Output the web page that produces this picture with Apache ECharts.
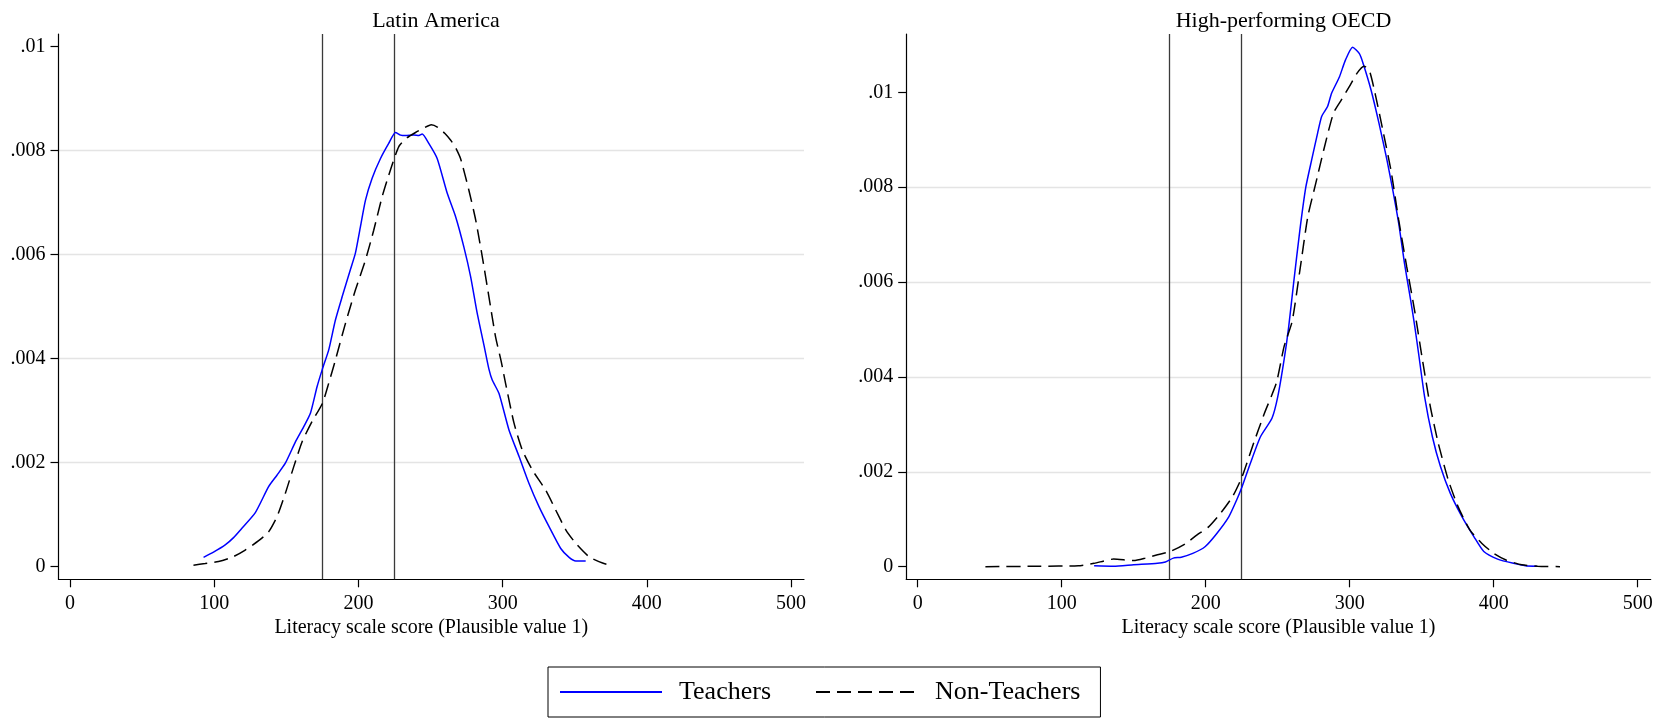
<!DOCTYPE html>
<html><head><meta charset="utf-8">
<script src="https://cdn.jsdelivr.net/npm/echarts@6/dist/echarts.min.js"></script>
<style>html,body{margin:0;padding:0;background:#fff}#c{width:1658px;height:718px}</style>
</head><body><div id="c"></div>
<script>
const panelTitles = ['Latin America', 'High-performing OECD'];
const seriesNames = ['Teachers', 'Non-Teachers'];
const xAxisTitle = 'Literacy scale score (Plausible value 1)';
const xTicks = [0, 100, 200, 300, 400, 500];
const yTicks = [0, 0.002, 0.004, 0.006, 0.008, 0.01];
// which y ticks get a horizontal grid line (LA panel has none at .01)
const gridOnLA = [true, true, true, true, true, false];
const gridOnOECD = [true, true, true, true, true, true];
const cutoffs = [175, 225];
const xRange = [-8, 509];
const yRangeLA = [-0.000242, 0.010244];
const yRangeOECD = [-0.000266, 0.01123];

// Latin America - Teachers
const laTeachX = [92.6, 99.5, 107.6, 113.4, 119.2, 128.5, 137.7, 143.5, 149.3, 156.3, 162, 166.7, 171.3, 175, 179.4, 184, 188.7, 194.4, 197.9, 201.4, 204.9, 209.5, 215.3, 221, 225.7, 229.2, 232.6, 238.4, 241.9, 244.2, 248.8, 254.6, 261.6, 267.4, 273.1, 277.8, 282.4, 287.5, 290.5, 292.8, 297.5, 304.4, 311.4, 318.3, 325.3, 332.2, 340.3, 346.1, 350.7, 357.6];
const laTeachY = [0.00018, 0.00028, 0.00042, 0.00056, 0.00074, 0.00104, 0.00154, 0.00176, 0.00199, 0.0024, 0.00269, 0.00295, 0.00346, 0.0038, 0.00417, 0.00474, 0.00519, 0.00571, 0.00603, 0.00654, 0.00705, 0.00747, 0.00785, 0.00814, 0.00835, 0.0083, 0.00829, 0.0083, 0.00829, 0.00832, 0.00814, 0.00785, 0.00718, 0.00673, 0.00615, 0.00558, 0.00487, 0.0042, 0.0038, 0.00359, 0.00333, 0.00263, 0.00212, 0.0016, 0.00115, 0.00077, 0.00035, 0.00018, 0.00011, 0.00011];
// Latin America - Non-Teachers
const laNonX = [85.6, 93.7, 103, 112.3, 121.5, 130.8, 137.7, 143.5, 149.3, 155.1, 160.9, 167.8, 175, 179.4, 184, 191, 197.9, 204.9, 210.6, 216.4, 222.2, 228, 233.8, 239.6, 245, 250.5, 255, 260, 264, 267, 270.8, 276.6, 281.3, 285.9, 290.5, 295.1, 299, 302, 307.9, 313.7, 320.6, 329.9, 336.8, 343.8, 350.7, 360, 369.3, 376.2];
const laNonY = [0.00003, 0.00006, 0.0001, 0.00018, 0.00032, 0.0005, 0.00067, 0.00096, 0.00141, 0.00192, 0.0024, 0.00279, 0.00314, 0.00353, 0.00397, 0.00468, 0.00532, 0.0059, 0.00647, 0.00711, 0.00763, 0.00808, 0.00825, 0.00835, 0.00843, 0.0085, 0.00845, 0.00833, 0.0082, 0.00808, 0.00785, 0.00724, 0.00667, 0.00596, 0.00519, 0.00442, 0.00395, 0.00353, 0.00276, 0.00224, 0.00186, 0.00147, 0.00109, 0.00071, 0.00045, 0.00019, 0.00007, 0.00002];
// High-performing OECD - Teachers
const oeTeachX = [122.5, 136, 150, 166.5, 172, 177.5, 183, 191, 199.5, 207.7, 216, 221.4, 225.3, 231, 238, 246, 250, 254.4, 257.5, 261, 265.4, 269.5, 273.6, 277.7, 280.5, 284.6, 287.4, 292.9, 297, 302, 306.6, 309.3, 314.8, 320.3, 325.8, 329.9, 334, 338, 342.3, 345, 347.8, 352, 357.4, 363, 369.8, 378, 386.3, 393.1, 402.7, 413.7, 422, 430];
const oeTeachY = [0.00002, 0.00001, 0.00004, 0.00007, 0.0001, 0.00018, 0.0002, 0.00028, 0.00042, 0.0007, 0.00105, 0.0014, 0.00169, 0.00218, 0.00274, 0.00313, 0.00358, 0.00436, 0.00503, 0.00597, 0.0071, 0.008, 0.00858, 0.00914, 0.00949, 0.0097, 0.00998, 0.01033, 0.01068, 0.01095, 0.01082, 0.01061, 0.01005, 0.00935, 0.00858, 0.00794, 0.00724, 0.0064, 0.00562, 0.0051, 0.0045, 0.00358, 0.00274, 0.00211, 0.00155, 0.00105, 0.00063, 0.00032, 0.00016, 0.00007, 0.00002, 0.00001];
// High-performing OECD - Non-Teachers
const oeNonX = [47, 84, 111.5, 122.5, 136, 150, 158, 166.5, 175.3, 185.7, 194, 202, 210.4, 218.7, 225.3, 232.4, 240.7, 249, 254.4, 260, 265.4, 270.9, 276.4, 281.9, 288.7, 294.2, 299.7, 305, 309.9, 313.5, 317.6, 323, 328.6, 334, 339.6, 345, 350.5, 356, 361.5, 368.4, 375.3, 383.5, 391.8, 400, 408.5, 419.5, 430.5, 446];
const oeNonY = [0, 0.00001, 0.00002, 0.00007, 0.00016, 0.00013, 0.00018, 0.00025, 0.00032, 0.00048, 0.00067, 0.00084, 0.00113, 0.00148, 0.0019, 0.00253, 0.00323, 0.00387, 0.00464, 0.00517, 0.00625, 0.00738, 0.00808, 0.00878, 0.00956, 0.00984, 0.01012, 0.0104, 0.01055, 0.01047, 0.00998, 0.0092, 0.00836, 0.00731, 0.00632, 0.00541, 0.00436, 0.00337, 0.0026, 0.00183, 0.00126, 0.00077, 0.00049, 0.00028, 0.00014, 0.00004, 0.00001, 0];

const FONT = '"Liberation Serif", "Times New Roman", serif';
const GRID_COLOR = '#e4e4e4';
const pts = (xs, ys) => xs.map((x, i) => [x, ys[i]]);
const fmtY = v => v === 0 ? '0' : String(+v.toFixed(4)).replace(/^0\./, '.');

const grids = [
  {left: 58.5, top: 34, width: 745.5, height: 545.3},
  {left: 906.2, top: 34, width: 744.5, height: 545.3}
];
const yRanges = [yRangeLA, yRangeOECD];
const gridOn = [gridOnLA, gridOnOECD];
const curves = [[pts(laTeachX, laTeachY), pts(laNonX, laNonY)], [pts(oeTeachX, oeTeachY), pts(oeNonX, oeNonY)]];

const axisLineStyle = {color: '#000', width: 1.2};
const xAxes = [0, 1].map(i => ({
  gridIndex: i, type: 'value', min: xRange[0], max: xRange[1],
  axisLine: {show: true, onZero: false, lineStyle: axisLineStyle},
  axisTick: {show: true, length: 8, customValues: xTicks, lineStyle: axisLineStyle},
  axisLabel: {show: true, customValues: xTicks, margin: 14, fontSize: 20, color: '#000', fontFamily: FONT},
  splitLine: {show: false},
  name: xAxisTitle, nameLocation: 'middle', nameGap: 32,
  nameTextStyle: {fontSize: 20, color: '#000', fontFamily: FONT}
}));
const yAxes = [0, 1].map(i => ({
  gridIndex: i, type: 'value', min: yRanges[i][0], max: yRanges[i][1],
  axisLine: {show: true, onZero: false, lineStyle: axisLineStyle},
  axisTick: {show: true, length: 8, customValues: yTicks, lineStyle: axisLineStyle},
  axisLabel: {show: true, customValues: yTicks, margin: 13, fontSize: 20, color: '#000', fontFamily: FONT, formatter: fmtY},
  splitLine: {show: true, showMinLine: false, showMaxLine: false,
    lineStyle: {width: 1.3, type: 'solid', color: gridOn[i].map(on => on ? GRID_COLOR : 'rgba(0,0,0,0)')}}
}));

const series = [];
[0, 1].forEach(i => {
  series.push({
    type: 'line', name: seriesNames[0], xAxisIndex: i, yAxisIndex: i, data: curves[i][0],
    symbol: 'none', smooth: 0.2, z: 3,
    lineStyle: {color: '#0000ff', width: 1.5, type: 'solid'}, itemStyle: {color: '#0000ff'}
  });
  series.push({
    type: 'line', name: seriesNames[1], xAxisIndex: i, yAxisIndex: i, data: curves[i][1],
    symbol: 'none', smooth: 0.2, z: 3,
    lineStyle: {color: '#000', width: 1.5, type: [14, 7]}, itemStyle: {color: '#000'},
    markLine: {
      silent: true, symbol: ['none', 'none'], label: {show: false}, animation: false,
      emphasis: {disabled: true}, z: 1,
      lineStyle: {color: '#3a3a3a', width: 1.3, type: 'solid'},
      data: cutoffs.map(v => ({xAxis: v}))
    }
  });
});

const chart = echarts.init(document.getElementById('c'), null, {renderer: 'canvas'});
chart.setOption({
  animation: false,
  backgroundColor: '#fff',
  title: [
    {text: panelTitles[0], left: 431, top: 5, textAlign: 'center', textStyle: {fontSize: 22, fontWeight: 'normal', color: '#000', fontFamily: FONT}},
    {text: panelTitles[1], left: 1278.5, top: 5, textAlign: 'center', textStyle: {fontSize: 22, fontWeight: 'normal', color: '#000', fontFamily: FONT}}
  ],
  legend: {
    data: seriesNames, left: 548, top: 667, orient: 'horizontal',
    padding: [12, 20, 12, 11], itemGap: 44, itemWidth: 102, itemHeight: 14,
    borderColor: '#000', borderWidth: 1, backgroundColor: '#fff',
    lineStyle: {width: 2},
    itemStyle: {opacity: 0, borderWidth: 0},
    textStyle: {fontSize: 26, color: '#000', fontFamily: FONT, padding: [0, 0, 0, 12]},
    selectedMode: false
  },
  grid: grids.map(g => Object.assign({outerBoundsMode: 'none', containLabel: false}, g)),
  xAxis: xAxes,
  yAxis: yAxes,
  series: series
});
</script>
</body></html>
